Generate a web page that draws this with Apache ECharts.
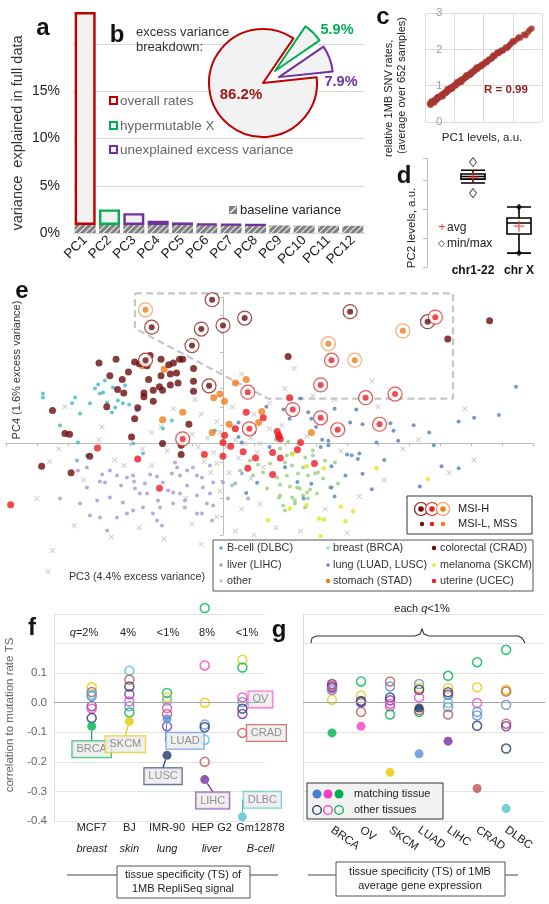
<!DOCTYPE html>
<html><head><meta charset="utf-8">
<script src="https://cdn.jsdelivr.net/npm/echarts/dist/echarts.min.js"></script>
<style>html,body{margin:0;padding:0;background:#fff}#c{width:549px;height:904px}</style>
</head><body><div id="c"></div>
<script>
// ================= DATA =================
// panel a
const pcCategories = ['PC1','PC2','PC3','PC4','PC5','PC6','PC7','PC8','PC9','PC10','PC11','PC12'];
const baselineVariance = [0.85,0.85,0.85,0.85,0.85,0.85,0.85,0.85,0.8,0.78,0.77,0.76];
const excessVariance = [22.55,1.65,1.25,0.45,0.27,0.12,0.07,0.03,0,0,0,0];
const excessKind = ['overall','hypermutable','unexplained','unexplained','unexplained','unexplained','unexplained','unexplained','none','none','none','none'];
// panel b
const pieNames = ['overall rates','hypermutable X','unexplained excess variance'];
const pieValues = [86.2,5.9,7.9];
// panel c  [PC1 level, relative rate]
const cPoints = [[-0.84,0.50],[-0.80,0.54],[-0.77,0.52],[-0.73,0.58],[-0.70,0.56],[-0.66,0.62],[-0.63,0.60],[-0.59,0.66],[-0.55,0.65],[-0.52,0.70],[-0.48,0.69],[-0.44,0.75],[-0.41,0.73],[-0.37,0.79],[-0.33,0.78],[-0.30,0.83],[-0.26,0.82],[-0.22,0.88],[-0.19,0.86],[-0.15,0.93],[-0.11,0.91],[-0.08,0.97],[-0.04,0.96],[0.00,1.02],[0.04,1.01],[0.07,1.06],[0.11,1.05],[0.15,1.11],[0.19,1.09],[0.23,1.16],[0.27,1.14],[0.31,1.20],[0.35,1.19],[0.39,1.25],[0.43,1.24],[0.47,1.30],[0.52,1.29],[0.56,1.36],[0.61,1.35],[0.65,1.41],[0.70,1.40],[0.75,1.47],[0.80,1.46],[0.85,1.53],[0.90,1.52],[0.96,1.59],[1.01,1.59],[1.07,1.66],[1.13,1.66],[1.19,1.73],[1.25,1.73],[1.31,1.80],[1.38,1.81],[1.45,1.88],[1.52,1.89],[1.60,1.97],[1.68,1.99],[1.76,2.06],[1.85,2.08],[1.94,2.16],[2.04,2.20],[2.14,2.27],[2.26,2.32],[2.38,2.41],[2.52,2.47],[2.65,2.57],
 [-0.78,0.57],[-0.60,0.61],[-0.45,0.71],[-0.28,0.80],[-0.12,0.95],[0.05,1.00],[0.20,1.14],[0.36,1.22],[0.55,1.31],[0.72,1.45],[0.92,1.56],[1.10,1.64],[1.30,1.76],[1.48,1.92],[1.66,1.96],[1.90,2.12],
 [-0.81,0.47],[-0.68,0.53],[-0.57,0.69],[-0.39,0.70],[-0.24,0.91],[-0.06,0.92],[0.09,1.10],[0.25,1.10],[0.41,1.29],[0.58,1.32],[0.77,1.51],[0.95,1.55],[1.16,1.70],[1.34,1.84],[1.56,1.93],[1.80,2.03],[2.00,2.23],[2.20,2.33],[2.44,2.38],[2.58,2.53]];
// panel d  [min whisker, Q1, median, Q3, max whisker]
const boxCategories = ['chr1-22','chr X'];
const boxStats = [[2.9,3.03,3.12,3.21,3.34],[0.48,1.14,1.52,1.69,2.07]];
const boxMinMax = [[0,2.55],[0,3.62],[1,0.48],[1,2.07]];
const boxAvg = [[0,3.10],[1,1.41]];
// panel e  [PC3, PC4]
const eCRAD = [[-4.0,4.4],[-3.45,4.6],[-2.85,4.45],[-2.7,4.35],[-2.45,4.25],[-2.0,4.6],[-1.75,4.3],[-1.6,4.4],[-1.4,4.6],[-1.3,4.6],[-0.95,4.1],[-1.5,3.85],[-1.7,3.8],[-2.0,3.7],[-1.45,3.3],[-1.7,3.2],[-1.95,2.9],[-2.25,2.9],[-2.4,3.5],[-2.55,2.75],[-2.55,2.55],[-3.2,2.75],[-3.4,2.95],[-3.25,3.5],[-3.75,2.0],[-2.75,1.95],[-2.25,2.3],[-2.85,1.35],[-1.1,1.05],[-5.5,1.8],[-5.1,0.55],[-4.95,0.5],[-5.85,-1.25],[-4.9,-1.6],[-4.3,-0.7],[-2.95,0.35],[-1.95,0.0],[-1.35,-0.1],[-1.35,-0.6],[-0.95,2.85],[-0.95,3.4],[2.1,4.75],[7.25,5.7],[8.6,6.7],[-3.05,3.9],[-3.65,3.7],[-2.35,4.8],[-2.05,3.1]];
const eCRAD_MSIH = [[-0.35,7.85],[-2.3,6.35],[-0.7,6.25],[0.0,6.45],[0.7,6.85],[-1.0,5.35],[-2.5,4.55],[-0.45,3.15],[4.1,7.2],[6.6,6.65]];
const eUCEC = [[0.75,1.7],[1.3,1.4],[0.4,0.8],[0.05,0.45],[0.0,0.05],[0.25,-0.15],[1.75,0.65],[1.8,0.45],[1.85,0.25],[2.5,0.05],[2.4,-0.35],[1.6,-0.5],[0.65,-0.45],[0.0,-0.7],[-0.6,-0.6],[1.05,-0.8],[1.85,-0.8],[0.8,-1.35],[1.6,-1.7],[2.95,-1.1],[2.15,2.5],[-4.05,-0.25],[-2.75,-0.85],[-2.05,-2.45],[-6.85,-3.35],[1.8,0.35]];
const eUCEC_MSIH = [[-1.3,0.25],[0.85,0.8],[2.25,1.85],[3.15,1.4],[3.7,0.75],[4.6,2.5],[3.15,3.2],[5.55,2.7],[5.05,1.05],[0.8,2.8],[3.5,4.55],[6.85,6.9]];
const eSTAD = [[-1.95,1.3],[-1.3,1.7],[-0.35,0.6],[-0.1,2.7],[0.4,3.3],[0.75,3.5],[-1.9,4.05],[-2.6,4.25],[-0.3,2.5],[0.05,2.3],[1.15,1.15],[1.25,1.75],[0.2,1.05],[2.85,0.6]];
const eSTAD_MSIH = [[-2.5,7.3],[5.8,6.15],[3.4,5.45],[4.25,4.55]];
const eLung = [[9.45,3.1],[8.9,1.55],[8.1,1.4],[7.6,1.2],[6.65,0.6],[6.15,1.0],[6.8,-0.1],[7.05,-1.25],[6.35,-2.35],[4.3,1.85],[3.6,1.9],[2.75,1.7],[2.85,1.35],[3.25,1.25],[4.1,1.15],[4.5,1.05],[5.4,1.1],[5.5,0.7],[5.65,0.15],[4.95,0.05],[3.4,0.15],[3.2,0.2],[3.15,-0.2],[4.0,-0.6],[4.4,-0.55],[4.35,-0.85],[3.5,-1.25],[3.95,-1.75],[3.5,-2.4],[2.5,2.45],[1.95,1.85],[2.15,1.35],[0.6,0.05],[1.4,2.0],[3.4,-0.1],[4.15,-0.65],[4.5,-1.65],[3.6,-2.9],[2.85,-2.2],[2.4,-2.1],[1.5,-0.2],[1.1,-2.15],[0.75,-2.7],[0.5,0.35],[7.6,-1.35],[0.5,1.15],[1.0,0.6],[2.0,-1.3],[2.6,-3.0],[5.2,-0.9],[4.8,-2.5],[3.0,0.9]];
const eBreast = [[0.87,-0.93],[1.13,-1.15],[1.52,-1.09],[2.0,-1.04],[2.23,-1.2],[2.65,-0.77],[2.9,-0.66],[1.29,-1.58],[1.74,-1.86],[2.06,-1.75],[2.42,-1.64],[2.74,-1.75],[3.06,-1.58],[1.84,-2.24],[2.16,-2.35],[2.48,-2.46],[2.81,-2.51],[1.84,-2.84],[2.23,-2.95],[2.58,-2.84],[1.94,-3.39],[2.32,-3.28],[2.74,-3.0],[3.23,-1.91],[3.45,-2.4],[3.71,-2.19],[1.42,-2.46],[2.06,-0.66],[1.84,-0.27],[0.97,-1.75],[2.23,-0.55],[2.58,-1.31],[2.97,-1.64],[2.71,-2.68],[2.32,-3.11],[2.39,-2.4],[3.29,-0.93],[3.61,-1.04],[2.9,-0.38],[3.03,-2.73],[2.65,-3.5],[1.81,-2.95],[2.0,-3.66],[0.55,-1.48],[0.29,-2.3],[1.7,0.2],[2.1,0.1]];
const eMelanoma = [[1.45,-4.2],[2.15,-3.55],[2.7,-3.35],[3.1,-4.1],[3.25,-4.15],[3.8,-3.45],[4.2,-3.7],[3.95,-4.25],[2.25,-0.6],[3.25,-1.35],[2.7,-1.25],[3.15,-5.05],[4.95,-1.35],[6.6,-1.95]];
const eLiver = [[-4.68,-1.48],[-4.39,-1.31],[-3.97,-2.08],[-3.81,-2.13],[-3.9,-1.69],[-3.65,-1.48],[-3.42,-1.75],[-3.29,-2.3],[-3.1,-1.86],[-2.87,-2.08],[-2.9,-1.75],[-2.84,-2.46],[-2.68,-2.73],[-2.45,-2.73],[-2.52,-2.19],[-2.35,-1.69],[-2.13,-1.8],[-1.94,-2.13],[-1.65,-1.64],[-1.48,-1.31],[-1.16,-1.48],[-0.84,-1.75],[-1.77,-2.57],[-1.39,-2.73],[-2.1,-3.11],[-2.03,-3.5],[-2.58,-3.5],[-2.9,-3.66],[-3.1,-3.83],[-3.42,-4.04],[-3.97,-4.04],[-4.39,-2.4],[-4.06,-3.11],[-3.65,-2.95],[-3.23,-3.22],[-2.26,-3.83],[-1.97,-4.48],[-2.13,-4.21],[-1.61,-3.28],[-1.23,-3.5],[-0.84,-3.83],[-0.52,-3.28],[-0.42,-2.73],[-0.65,-2.4],[-4.61,-3.28],[-5.26,-3.0],[-4.29,-3.93],[-3.74,-4.75],[-1.55,-1.04],[-1.39,-1.75],[-0.97,-1.31],[-0.42,-1.2],[-0.68,-1.86],[-0.32,-2.13],[-1.16,-2.3],[-1.61,-2.68],[-0.84,-2.84],[-0.32,-3.39],[-1.23,-3.11],[-0.68,-3.83],[-0.35,-4.21],[0.16,-3.0],[0.39,-2.19],[0.61,-1.64],[0.0,-2.13],[0.81,-3.0]];
const eBcell = [[-5.81,2.73],[-5.81,2.51],[-4.61,1.64],[-4.87,2.19],[-4.77,2.51],[-4.29,2.19],[-3.97,2.73],[-3.87,2.79],[-3.74,2.24],[-3.39,2.35],[-3.23,2.19],[-3.03,2.13],[-3.58,1.69],[-3.48,1.97],[-2.77,1.8],[-3.55,3.06],[-3.81,3.44],[-3.16,3.17],[-1.94,0.82],[-1.65,1.26],[-4.68,0.05],[-2.58,-0.55],[-2.9,0.0],[-4.39,-0.66],[-4.71,-0.93],[-4.13,3.0],[-4.03,3.22],[-5.26,0.98],[-0.26,0.71]];
const eOther = [[-0.2,1.2],[0.3,0.9],[-0.5,0.3],[-0.8,-0.2],[-1.0,0.5],[-0.3,-0.5],[0.5,-0.8],[-0.6,-1.0],[0.9,0.3],[1.2,0.0],[1.5,0.8],[0.2,-1.6],[-0.1,-2.6],[-0.4,-1.6],[-1.4,0.4],[-1.8,-0.4],[-2.3,0.6],[-2.6,-0.3],[-3.5,-0.9],[-4.0,0.2],[-5.3,-0.3],[-5.6,-1.0],[-6.0,-3.0],[-5.5,-5.85],[-5.65,-7.0],[-1.0,-4.4],[-0.2,-4.0],[0.6,-3.6],[1.2,-3.3],[1.7,-4.6],[1.0,-5.0],[2.5,-4.8],[4.4,-2.9],[5.2,-2.0],[5.8,-0.3],[6.3,0.2],[5.0,2.0],[2.9,2.6],[2.0,3.0],[0.6,3.8],[-0.4,3.0],[1.5,2.2],[1.0,1.6],[0.3,2.0],[-1.6,1.9],[-0.7,1.6],[1.9,1.0],[2.7,0.4],[3.8,-0.4],[0.1,-0.2],[0.4,0.2],[-0.2,-1.1],[1.3,-1.3],[-1.2,-3.0],[-2.3,-1.2],[-3.2,-1.2],[-4.5,-2.0],[-4.8,-4.5],[-3.6,-5.1],[-2.7,-4.6],[-1.9,-5.2],[-0.7,-5.5],[0.4,-4.8],[3.3,-3.6],[4.0,-4.9],[6.1,-3.2],[7.3,-1.6],[8.1,-0.9],[3.6,2.4],[4.8,3.4],[2.3,4.1],[7.8,1.9],[-2.0,0.9],[-0.9,2.4],[-5.1,2.0],[-3.9,0.9],[0.7,0.0],[1.1,-0.5],[-0.1,0.6],[0.9,-1.9]];
const eMsiRegion = [[-2.84,8.2],[7.42,8.2],[7.42,2.45],[1.45,2.45],[-2.84,6.28],[-2.84,8.2]];
// panel f  [cell line index, correlation, tumour type]
const fColumns = ['MCF7','BJ','IMR-90','HEP G2','Gm12878'];
const fTissues = ['breast','skin','lung','liver','B-cell'];
const fQ = ['{i|q}=2%','4%','<1%','8%','<1%'];
const fOther = [[1,0.052,'SKCM'],[1,0.036,'CRAD'],[1,0.028,'DLBC'],[1,0.022,'LUAD'],[1,-0.012,'LIHC'],[1,-0.02,'OV'],[1,-0.052,'LUSC'],
 [2,0.108,'DLBC'],[2,0.078,'CRAD'],[2,0.055,'LUSC'],[2,0.029,'LIHC'],[2,0.004,'OV'],[2,-0.012,'LUAD'],[2,-0.033,'BRCA'],
 [3,0.033,'BRCA'],[3,0.018,'SKCM'],[3,0.007,'DLBC'],[3,-0.018,'OV'],[3,-0.038,'CRAD'],[3,-0.08,'LIHC'],
 [4,0.32,'BRCA'],[4,0.126,'OV'],[4,0.0,'SKCM'],[4,-0.074,'LUAD'],[4,-0.083,'LUSC'],[4,-0.125,'DLBC'],[4,-0.2,'CRAD'],
 [5,0.145,'SKCM'],[5,0.119,'BRCA'],[5,0.018,'OV'],[5,0.002,'LUAD'],[5,-0.02,'LUSC'],[5,-0.038,'LIHC'],[5,-0.102,'CRAD']];
const fMatch = [[1,-0.08,'BRCA'],[2,-0.063,'SKCM'],[3,-0.054,'LUAD'],[3,-0.178,'LUSC'],[4,-0.26,'LIHC'],[5,-0.386,'DLBC']];
// panel g  [tumour index, correlation, tissue of expression]
const gTypes = ['BRCA','OV','SKCM','LUAD','LIHC','CRAD','DLBC'];
const gOther = [[1,0.063,'LIHC'],[1,0.058,'CRAD'],[1,0.052,'LUSC'],[1,0.048,'OV'],[1,0.042,'LUAD'],[1,0.01,'SKCM'],
 [2,0.072,'BRCA'],[2,0.024,'SKCM'],[2,0.006,'LUSC'],[2,0.0,'LUAD'],[2,0.003,'LIHC'],[2,-0.031,'CRAD'],
 [3,0.072,'CRAD'],[3,0.055,'LUAD'],[3,0.018,'LUSC'],[3,0.008,'LIHC'],[3,-0.004,'OV'],[3,-0.012,'OV'],[3,-0.04,'BRCA'],
 [4,0.063,'LUAD'],[4,0.05,'SKCM'],[4,0.044,'LUSC'],[4,0.018,'OV'],[4,-0.031,'BRCA'],[4,-0.025,'CRAD'],
 [5,0.091,'BRCA'],[5,0.05,'SKCM'],[5,0.035,'LUSC'],[5,0.027,'LIHC'],[5,-0.001,'DLBC'],[5,-0.015,'LUAD'],[5,-0.04,'CRAD'],
 [6,0.137,'BRCA'],[6,0.052,'SKCM'],[6,-0.001,'OV'],[6,-0.031,'LUAD'],[6,-0.043,'LUAD'],[6,-0.078,'LUSC'],
 [7,0.179,'BRCA'],[7,0.044,'SKCM'],[7,0.038,'CRAD'],[7,-0.007,'LUAD'],[7,-0.071,'CRAD'],[7,-0.08,'LIHC'],[7,-0.155,'LUSC']];
const gMatch = [[1,-0.102,'BRCA'],[2,-0.08,'OV'],[3,-0.235,'SKCM'],[4,-0.018,'LUSC'],[4,-0.173,'LUAD'],[5,-0.13,'LIHC'],[6,-0.29,'CRAD'],[7,-0.358,'DLBC']];

// ================= STYLE =================
const FONT = '"Liberation Sans", Arial, sans-serif';
const kindColor = {overall:'#c00000', hypermutable:'#00b050', unexplained:'#7030a0', none:'#999'};
const pieColors = ['#c00000','#00b050','#7030a0'];
const tumorColors = {BRCA:'#00b050', OV:'#f23ec6', SKCM:'#e3cb00', LUAD:'#5b8fd6', LUSC:'#1f3864', LIHC:'#7030a0', CRAD:'#c0504d', DLBC:'#4cc4c8'};
const callouts = {'1|BRCA':[0,23],'2|SKCM':[-4,23],'3|LUAD':[18,22],'3|LUSC':[-4,21],'4|LIHC':[8,21],'5|DLBC':[20,-17],'5|OV':[18,2],'5|CRAD':[24,0]};
const fLabelShift = [0,0,0,14,36];   // label padding (px) to nudge the last two column labels right

// hatch pattern
const hc = document.createElement('canvas'); hc.width = 6; hc.height = 6;
const hx = hc.getContext('2d'); hx.fillStyle = '#808080'; hx.fillRect(0,0,6,6);
hx.strokeStyle = 'rgba(255,255,255,0.85)'; hx.lineWidth = 1.2; hx.beginPath();
hx.moveTo(0,6); hx.lineTo(6,0); hx.moveTo(-3,3); hx.lineTo(3,-3); hx.moveTo(3,9); hx.lineTo(9,3); hx.stroke();
const hatch = {image: hc, repeat: 'repeat'};

const chart = echarts.init(document.getElementById('c'), null, {renderer:'canvas'});

function T(x, y, text, st, rot) {
  return {type:'text', x, y, z:100, rotation: rot || 0,
    style: Object.assign({text, fontSize:11, fill:'#222', align:'center', verticalAlign:'middle', fontFamily:FONT}, st || {})};
}
const BIG = {fontSize:24, fontWeight:'bold', fill:'#111'};
const rich = {i:{fontStyle:'italic', fontFamily:FONT, fontSize:11, fill:'#222'}};
function eSc(data, color, size, z, extra) {
  return Object.assign({type:'scatter', xAxisIndex:3, yAxisIndex:3, data, symbolSize:size, clip:false, silent:true, z,
    itemStyle:{color}}, extra || {});
}
function ring(data, border) {
  return eSc(data, '#fff', 14, 6, {itemStyle:{color:'#fff', borderColor:border, borderWidth:1.2}});
}
const crossPath = 'path://M0,0L1.5,0L5,3.5L8.5,0L10,0L10,1.5L6.5,5L10,8.5L10,10L8.5,10L5,6.5L1.5,10L0,10L0,8.5L3.5,5L0,1.5Z';
const plusPath = 'path://M4.4,0H5.6V4.4H10V5.6H5.6V10H4.4V5.6H0V4.4H4.4Z';

function corrSeries(arr, filled, axis, withLabels) {
  return {type:'scatter', xAxisIndex:axis, yAxisIndex:axis, symbolSize:9, clip:false, silent:true, z: filled ? 4 : 3,
    data: arr.map(d => {
      const col = tumorColors[d[2]];
      const item = {value:[d[0], d[1]], itemStyle: filled ? {color:col} : {color:'rgba(0,0,0,0)', borderColor:col, borderWidth:1.5}};
      if (withLabels && callouts[d[0]+'|'+d[2]]) {
        item.label = {show:true, formatter:d[2], borderColor:col};
        item.labelLine = {show:true, lineStyle:{color:col, width:1.2}};
      }
      return item;
    }),
    label:{show:false, position:'inside', color:'#777', fontSize:11, fontFamily:FONT, backgroundColor:'#ececec', borderWidth:1, padding:[3,4,2,4]},
    labelLine:{show:false},
    labelLayout: withLabels ? (p => { const d = arr[p.dataIndex]; const o = callouts[d[0]+'|'+d[2]]; return o ? {dx:o[0], dy:o[1]} : {}; }) : undefined,
    markLine: filled ? undefined : {silent:true, symbol:'none', label:{show:false}, lineStyle:{color:'#a6a6a6', type:'solid', width:1}, data:[{yAxis:0}]}
  };
}

const fmtF = v => { if (v > 0.15) return ''; const r = Math.abs(v) < 1e-9 ? 0 : v; return r.toFixed(1); };
const fRich = {};
fColumns.forEach((c, i) => {
  fRich['n' + i] = {fontSize:11, color:'#222', lineHeight:21, fontFamily:FONT, padding:[0,0,0,fLabelShift[i]]};
  fRich['t' + i] = {fontSize:11, color:'#222', lineHeight:21, fontFamily:FONT, fontStyle:'italic', padding:[0,0,0,fLabelShift[i]]};
});

const option = {
  animation:false,
  textStyle:{fontFamily:FONT},
  grid:[
    {left:73, right:184, top:-3, bottom:671, outerBoundsMode:'none'},
    {left:425, right:7, top:13, bottom:782, outerBoundsMode:'none'},
    {left:450, right:7, top:158, bottom:637, outerBoundsMode:'none'},
    {left:6, right:16, top:297, bottom:369, outerBoundsMode:'none'},
    {left:54, right:284, top:614, bottom:83, outerBoundsMode:'none'},
    {left:303, right:4, top:614, bottom:83, outerBoundsMode:'none'}
  ],
  xAxis:[
    {type:'category', gridIndex:0, data:pcCategories, axisLine:{show:false}, axisTick:{show:false},
      axisLabel:{rotate:45, fontSize:13.5, color:'#222', margin:5, interval:0}},
    {type:'value', gridIndex:1, min:-1, max:3, interval:1, axisLine:{show:false}, axisTick:{show:false}, axisLabel:{show:false},
      splitLine:{show:true, lineStyle:{color:'#dcdcdc'}}},
    {type:'category', gridIndex:2, data:boxCategories, axisLine:{show:false}, axisTick:{show:false},
      axisLabel:{fontSize:12, fontWeight:'bold', color:'#111', margin:-2, interval:0}},
    {type:'value', gridIndex:3, min:-7, max:10, interval:1, axisLine:{onZero:true, lineStyle:{color:'#bdbdbd'}},
      axisTick:{show:true, length:3, lineStyle:{color:'#bdbdbd'}}, axisLabel:{show:false}, splitLine:{show:false}},
    {type:'value', gridIndex:4, min:0, max:5.6, interval:1, axisLine:{show:false}, axisTick:{show:false}, splitLine:{show:false},
      axisLabel:{color:'#222', fontSize:11, margin:-4, lineHeight:21, showMaxLabel:false, showMinLabel:false, hideOverlap:false,
        formatter: v => { const i = Math.round(v) - 1; if (Math.abs(v - Math.round(v)) > 1e-6 || i < 0 || i >= fColumns.length) return ''; return '{n' + i + '|' + fColumns[i] + '}\n{t' + i + '|' + fTissues[i] + '}'; },
        rich:fRich}},
    {type:'value', gridIndex:5, min:0, max:8.34, interval:1, axisLine:{show:false}, axisTick:{show:false}, splitLine:{show:false},
      axisLabel:{color:'#222', fontSize:11.5, rotate:-35, margin:8, showMaxLabel:false, showMinLabel:false,
        formatter: v => { const i = Math.round(v) - 1; if (Math.abs(v - Math.round(v)) > 1e-6 || i < 0 || i >= gTypes.length) return ''; return gTypes[i]; }}}
  ],
  yAxis:[
    {type:'value', gridIndex:0, min:0, max:25, interval:5, axisLine:{show:false}, axisTick:{show:false},
      splitLine:{lineStyle:{color:'#d9d9d9'}}, axisLabel:{fontSize:14, color:'#222', margin:13, formatter: v => v <= 15 ? v + '%' : ''}},
    {type:'value', gridIndex:1, min:0, max:3, interval:1, axisLine:{show:false}, axisTick:{show:false},
      splitLine:{lineStyle:{color:'#dcdcdc'}}, axisLabel:{inside:true, color:'#a0a0a0', fontSize:11.5, margin:11}},
    {type:'value', gridIndex:2, min:0, max:3.76, interval:1, offset:23, axisLine:{show:true, lineStyle:{color:'#bdbdbd'}},
      axisTick:{show:true, length:4, lineStyle:{color:'#bdbdbd'}}, axisLabel:{show:false}, splitLine:{show:false}},
    {type:'value', gridIndex:3, min:-5, max:8, interval:1, axisLine:{onZero:true, lineStyle:{color:'#bdbdbd'}},
      axisTick:{show:true, length:3, lineStyle:{color:'#bdbdbd'}}, axisLabel:{show:false}, splitLine:{show:false}},
    {type:'value', gridIndex:4, min:-0.4, max:0.3, interval:0.1, axisLine:{show:true, lineStyle:{color:'#dcdcdc'}}, axisTick:{show:false},
      splitLine:{lineStyle:{color:'#e3e3e3'}}, axisLabel:{color:'#666', fontSize:11.5, margin:7, formatter:fmtF}},
    {type:'value', gridIndex:5, min:-0.4, max:0.3, interval:0.1, axisLine:{show:true, lineStyle:{color:'#dcdcdc'}}, axisTick:{show:false},
      splitLine:{lineStyle:{color:'#e3e3e3'}}, axisLabel:{show:false}}
  ],
  series:[
    // a
    {type:'bar', xAxisIndex:0, yAxisIndex:0, stack:'a', barWidth:21, silent:true, data:baselineVariance,
      itemStyle:{color:hatch}},
    {type:'bar', xAxisIndex:0, yAxisIndex:0, stack:'a', barWidth:21, silent:true,
      data: excessVariance.map((v,i) => v > 0 ? {value:v, itemStyle:{color:'#f2f2f2', borderColor:kindColor[excessKind[i]], borderWidth:2.4}} : '-')},
    // b
    {type:'pie', center:[263,83], radius:54, startAngle:6, clockwise:true, selectedMode:'multiple', selectedOffset:17,
      silent:true, label:{show:false}, labelLine:{show:false}, emphasis:{disabled:true},
      data: pieNames.map((n,i) => ({name:n, value:pieValues[i], selected: i > 0,
        itemStyle:{color:'#f2f2f2', borderColor:pieColors[i], borderWidth:2},
        select:{itemStyle:{color:'#f2f2f2', borderColor:pieColors[i], borderWidth:2}}}))},
    // c
    {type:'scatter', xAxisIndex:1, yAxisIndex:1, data:cPoints, symbolSize:6, silent:true, itemStyle:{color:'#a8352f', opacity:0.85}},
    // d
    {type:'boxplot', xAxisIndex:2, yAxisIndex:2, data:boxStats, boxWidth:[23,24], silent:true,
      itemStyle:{color:'#fff', borderColor:'#000', borderWidth:1.6}},
    {type:'scatter', xAxisIndex:2, yAxisIndex:2, silent:true, z:5,
      data: boxMinMax.map(d => ({value:d, symbolSize: d[0] === 0 ? [7,9] : [6,7],
        itemStyle: d[0] === 0 ? {color:'#fff', borderColor:'#222', borderWidth:1} : {color:'#000'}})),
      symbol:'diamond'},
    {type:'scatter', xAxisIndex:2, yAxisIndex:2, silent:true, z:6, data:boxAvg, symbol:plusPath, symbolSize:11, itemStyle:{color:'#ff2a2a'}},
    // e
    {type:'line', xAxisIndex:3, yAxisIndex:3, data:eMsiRegion, symbol:'none', clip:false, silent:true, z:1,
      lineStyle:{color:'#c6c6c6', width:2.2, type:[7,4]}},
    eSc(eOther, '#c4c4c4', 5, 2, {symbol:crossPath}),
    eSc(eLiver, '#a497d4', 4, 3),
    eSc(eBcell, '#45b5c4', 4, 3),
    eSc(eBreast, '#94d07c', 4, 3),
    eSc(eLung, '#4f81bd', 4, 3),
    eSc(eMelanoma, '#e6e21a', 4.5, 3),
    eSc(eSTAD, '#f07d1c', 7, 5),
    eSc(eUCEC, '#ee1c24', 7, 5),
    eSc(eCRAD, '#6a0d0d', 7, 5),
    ring(eCRAD_MSIH, '#8b1a1a'),
    ring(eUCEC_MSIH, '#e02a2a'),
    ring(eSTAD_MSIH, '#f29a55'),
    eSc(eCRAD_MSIH, '#6a0d0d', 6, 7),
    eSc(eUCEC_MSIH, '#ee1c24', 6, 7),
    eSc(eSTAD_MSIH, '#f07d1c', 6, 7),
    // f
    corrSeries(fOther, false, 4, true),
    corrSeries(fMatch, true, 4, true),
    // g
    corrSeries(gOther, false, 5, false),
    corrSeries(gMatch, true, 5, false)
  ],
  graphic:{elements:[
    // panel a / b
    T(43,28,'a',BIG),
    T(18,133,'variance  explained in full data',{fontSize:14.5, fill:'#333'}, Math.PI/2),
    T(117,35,'b',BIG),
    T(136,32,'excess variance',{align:'left', fontSize:13, fill:'#333'}),
    T(136,47,'breakdown:',{align:'left', fontSize:13, fill:'#333'}),
    {type:'rect', z:100, shape:{x:110,y:97,width:7,height:7}, style:{fill:'#f2f2f2', stroke:'#c00000', lineWidth:2}},
    T(120,101,'overall rates',{align:'left', fontSize:13.5, fill:'#666'}),
    {type:'rect', z:100, shape:{x:110,y:122,width:7,height:7}, style:{fill:'#f2f2f2', stroke:'#00b050', lineWidth:2}},
    T(120,126,'hypermutable X',{align:'left', fontSize:13.5, fill:'#666'}),
    {type:'rect', z:100, shape:{x:110,y:146,width:7,height:7}, style:{fill:'#f2f2f2', stroke:'#7030a0', lineWidth:2}},
    T(120,150,'unexplained excess variance',{align:'left', fontSize:13.5, fill:'#666'}),
    {type:'rect', z:100, shape:{x:229,y:206,width:8,height:8}, style:{fill:'#808080'}},
    {type:'line', z:101, shape:{x1:230,y1:213,x2:236,y2:207}, style:{stroke:'#fff', lineWidth:1.2}},
    T(240,210,'baseline variance',{align:'left', fontSize:13, fill:'#222'}),
    T(241,95,'86.2%',{fontSize:15, fontWeight:'bold', fill:'#a01818'}),
    T(337,30,'5.9%',{fontSize:14.5, fontWeight:'bold', fill:'#00b050'}),
    T(341,82,'7.9%',{fontSize:14.5, fontWeight:'bold', fill:'#7030a0'}),
    // c
    T(383,17,'c',BIG),
    T(389,157,'relative 1MB SNV rates,',{align:'left', fontSize:11, fill:'#222'}, Math.PI/2),
    T(402,154,'(average over 652 samples)',{align:'left', fontSize:11, fill:'#222'}, Math.PI/2),
    T(506,90,'R = 0.99',{fontSize:11.5, fontWeight:'bold', fill:'#8e1c1c'}),
    T(482,138,'PC1 levels, a.u.',{fontSize:11.5, fill:'#222'}),
    // d
    T(404,176,'d',BIG),
    T(412,228,'PC2 levels, a.u.',{fontSize:11.5, fill:'#222'}, Math.PI/2),
    T(442,228,'+',{fontSize:12, fill:'#ff2a2a'}),
    T(447,228,'avg',{align:'left', fontSize:12, fill:'#222'}),
    T(441,244,'◇',{fontSize:9, fill:'#222'}),
    T(447,244,'min/max',{align:'left', fontSize:12, fill:'#222'}),
    // e
    T(22,291,'e',BIG),
    T(17,370,'PC4 (1.6% excess variance)',{fontSize:11, fill:'#333'}, Math.PI/2),
    T(137,577,'PC3 (4.4% excess variance)',{fontSize:10.8, fill:'#333'}),
    {type:'rect', z:90, shape:{x:407,y:496,width:125,height:38}, style:{fill:'#fff', stroke:'#333', lineWidth:1}},
    {type:'circle', z:100, shape:{cx:421,cy:509,r:6.5}, style:{fill:'#fff', stroke:'#8b1a1a', lineWidth:1.2}},
    {type:'circle', z:101, shape:{cx:421,cy:509,r:2.8}, style:{fill:'#6a0d0d'}},
    {type:'circle', z:100, shape:{cx:432,cy:509,r:6.5}, style:{fill:'#fff', stroke:'#e02a2a', lineWidth:1.2}},
    {type:'circle', z:101, shape:{cx:432,cy:509,r:2.8}, style:{fill:'#ee1c24'}},
    {type:'circle', z:100, shape:{cx:443,cy:509,r:6.5}, style:{fill:'#fff', stroke:'#f29a55', lineWidth:1.2}},
    {type:'circle', z:101, shape:{cx:443,cy:509,r:2.8}, style:{fill:'#f07d1c'}},
    T(458,509,'MSI-H',{align:'left', fontSize:11, fill:'#222'}),
    {type:'circle', z:100, shape:{cx:422,cy:524,r:2.2}, style:{fill:'#6a0d0d'}},
    {type:'circle', z:100, shape:{cx:432,cy:524,r:2.2}, style:{fill:'#ee1c24'}},
    {type:'circle', z:100, shape:{cx:443,cy:524,r:2.2}, style:{fill:'#f07d1c'}},
    T(458,524,'MSI-L, MSS',{align:'left', fontSize:11, fill:'#222'}),
    {type:'rect', z:90, shape:{x:213,y:540,width:320,height:51}, style:{fill:'#fff', stroke:'#555', lineWidth:1}},
    {type:'circle', z:100, shape:{cx:221,cy:548,r:1.7}, style:{fill:'#45b5c4'}},
    T(227,548,'B-cell (DLBC)',{align:'left', fontSize:10.8, fill:'#333'}),
    {type:'circle', z:100, shape:{cx:328,cy:548,r:1.7}, style:{fill:'#a9d8c0'}},
    T(333,548,'breast (BRCA)',{align:'left', fontSize:10.8, fill:'#333'}),
    {type:'circle', z:100, shape:{cx:434,cy:548,r:2.2}, style:{fill:'#6a0d0d'}},
    T(440,548,'colorectal (CRAD)',{align:'left', fontSize:10.8, fill:'#333'}),
    {type:'circle', z:100, shape:{cx:221,cy:565,r:1.7}, style:{fill:'#a497d4'}},
    T(227,565,'liver (LIHC)',{align:'left', fontSize:10.8, fill:'#333'}),
    {type:'circle', z:100, shape:{cx:328,cy:565,r:1.7}, style:{fill:'#4f81bd'}},
    T(333,565,'lung (LUAD, LUSC)',{align:'left', fontSize:10.8, fill:'#333'}),
    {type:'circle', z:100, shape:{cx:434,cy:565,r:1.7}, style:{fill:'#e6e21a'}},
    T(440,565,'melanoma (SKCM)',{align:'left', fontSize:10.8, fill:'#333'}),
    {type:'circle', z:100, shape:{cx:221,cy:581,r:1.7}, style:{fill:'#c4c4c4'}},
    T(227,581,'other',{align:'left', fontSize:10.8, fill:'#333'}),
    {type:'circle', z:100, shape:{cx:328,cy:581,r:2.2}, style:{fill:'#f07d1c'}},
    T(333,581,'stomach (STAD)',{align:'left', fontSize:10.8, fill:'#333'}),
    {type:'circle', z:100, shape:{cx:434,cy:581,r:2.2}, style:{fill:'#ee1c24'}},
    T(440,581,'uterine (UCEC)',{align:'left', fontSize:10.8, fill:'#333'}),
    // f
    T(32,628,'f',BIG),
    T(10,715,'correlation to mutation rate TS',{fontSize:11.5, fill:'#666'}, Math.PI/2),
    T(84,633,fQ[0],{fontSize:11, rich}),
    T(128,633,fQ[1],{fontSize:11}),
    T(168,633,fQ[2],{fontSize:11}),
    T(207,633,fQ[3],{fontSize:11}),
    T(247,633,fQ[4],{fontSize:11}),
    {type:'line', z:100, shape:{x1:67,y1:875,x2:117,y2:875}, style:{stroke:'#444', lineWidth:1}},
    {type:'line', z:100, shape:{x1:250,y1:875,x2:278,y2:875}, style:{stroke:'#444', lineWidth:1}},
    {type:'rect', z:100, shape:{x:117,y:866,width:133,height:32}, style:{fill:'#fff', stroke:'#555', lineWidth:1}},
    T(183,875,'tissue specificity (TS) of',{fontSize:11, fill:'#222'}),
    T(183,889,'1MB RepliSeq signal',{fontSize:11, fill:'#222'}),
    // g
    T(279,630,'g',BIG),
    T(422,609,'each {i|q}<1%',{fontSize:11, rich}),
    {type:'polyline', z:100, shape:{points:[[311,643],[312,638],[316,636],[415,636],[420,634],[422,629],[424,634],[429,636],[518,636],[522,638],[525,643]]},
      style:{fill:'none', stroke:'#333', lineWidth:1.1}},
    {type:'rect', z:90, shape:{x:307,y:783,width:136,height:36}, style:{fill:'#f2f2f2', stroke:'#333', lineWidth:1}},
    {type:'circle', z:100, shape:{cx:317,cy:794,r:4.5}, style:{fill:'#4a7fd0'}},
    {type:'circle', z:100, shape:{cx:328,cy:794,r:4.5}, style:{fill:'#f23ec6'}},
    {type:'circle', z:100, shape:{cx:339,cy:794,r:4.5}, style:{fill:'#00b050'}},
    T(354,794,'matching tissue',{align:'left', fontSize:11, fill:'#222'}),
    {type:'circle', z:100, shape:{cx:317,cy:810,r:4.3}, style:{fill:'none', stroke:'#1f3864', lineWidth:1.3}},
    {type:'circle', z:100, shape:{cx:328,cy:810,r:4.3}, style:{fill:'none', stroke:'#f23ec6', lineWidth:1.3}},
    {type:'circle', z:100, shape:{cx:339,cy:810,r:4.3}, style:{fill:'none', stroke:'#00b050', lineWidth:1.3}},
    T(354,810,'other tissues',{align:'left', fontSize:11, fill:'#222'}),
    {type:'line', z:100, shape:{x1:308,y1:875,x2:336,y2:875}, style:{stroke:'#444', lineWidth:1}},
    {type:'line', z:100, shape:{x1:505,y1:875,x2:518,y2:875}, style:{stroke:'#444', lineWidth:1}},
    {type:'rect', z:100, shape:{x:336,y:862,width:169,height:34}, style:{fill:'#fff', stroke:'#555', lineWidth:1}},
    T(420,872,'tissue specificity (TS) of 1MB',{fontSize:11, fill:'#222'}),
    T(420,886,'average gene expression',{fontSize:11, fill:'#222'})
  ]}
};
chart.setOption(option);
</script>
</body></html>
